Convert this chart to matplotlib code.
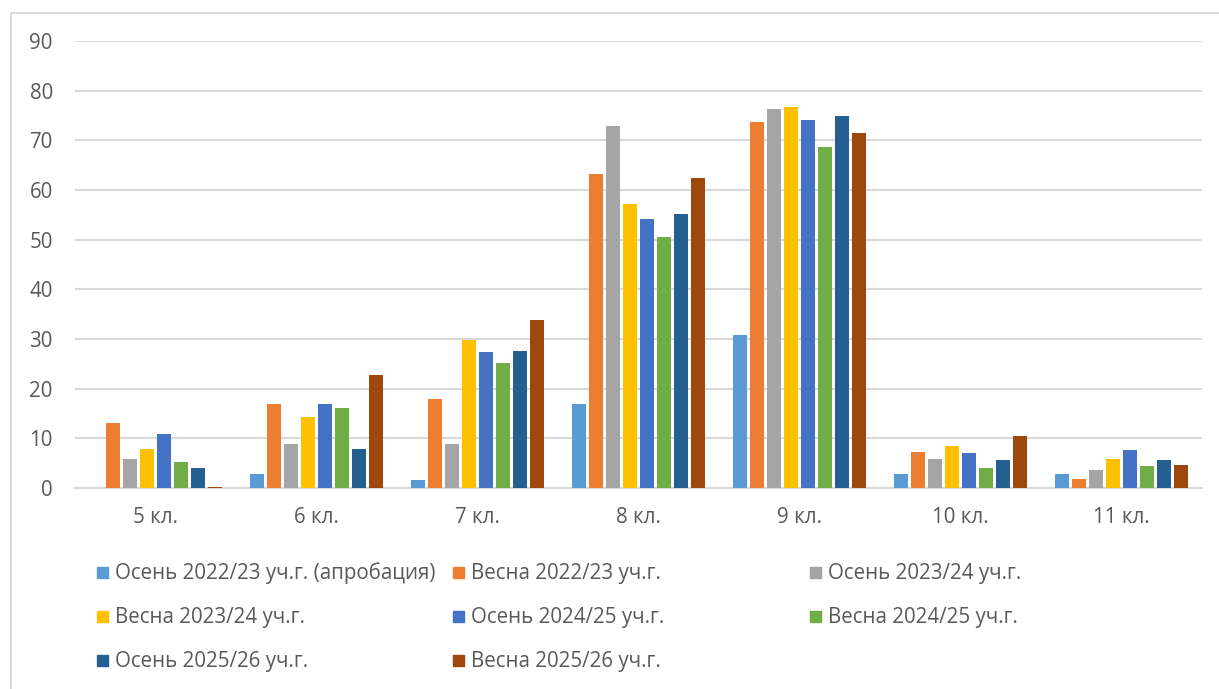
import numpy as np
import matplotlib.pyplot as plt
from matplotlib.patches import Rectangle

# Категории и подписи
grades = ["5 кл.", "6 кл.", "7 кл.", "8 кл.", "9 кл.", "10 кл.", "11 кл."]

series_names = [
    "Осень 2022/23 уч.г. (апробация)",
    "Весна 2022/23 уч.г.",
    "Осень 2023/24 уч.г.",
    "Весна 2023/24 уч.г.",
    "Осень 2024/25 уч.г.",
    "Весна 2024/25 уч.г.",
    "Осень 2025/26 уч.г.",
    "Весна 2025/26 уч.г.",
]

# Значения по сериям (по классам 5..11)
autumn_2223 = [0, 2.9, 1.6, 17.0, 30.9, 2.9, 2.9]
spring_2223 = [13.0, 16.9, 17.9, 63.2, 73.6, 7.3, 1.9]
autumn_2324 = [5.8, 8.8, 8.8, 72.8, 76.4, 5.8, 3.7]
spring_2324 = [7.9, 14.2, 29.8, 57.2, 76.7, 8.4, 5.8]
autumn_2425 = [10.8, 16.9, 27.4, 54.2, 74.0, 7.0, 7.7]
spring_2425 = [5.2, 16.1, 25.2, 50.6, 68.6, 4.1, 4.4]
autumn_2526 = [4.0, 7.9, 27.6, 55.1, 75.0, 5.6, 5.6]
spring_2526 = [0.3, 22.8, 33.8, 62.5, 71.5, 10.5, 4.6]

values = [autumn_2223, spring_2223, autumn_2324, spring_2324,
          autumn_2425, spring_2425, autumn_2526, spring_2526]

colors = ["#5B9BD5", "#ED7D31", "#A5A5A5", "#FFC000",
          "#4472C4", "#70AD47", "#255E91", "#9E480E"]

plt.rcParams['font.family'] = ['Open Sans', 'DejaVu Sans']
text_color = "#595959"
grid_color = "#D9D9D9"
fs = 14.8

fig = plt.figure(figsize=(12.19, 6.89), dpi=100)
ax = fig.add_axes([75 / 1219, 1 - 488 / 689, (1202 - 75) / 1219, (488 - 41) / 689])

x = np.arange(len(grades))
step = 0.1056
width = 0.083
for i, (vals, col) in enumerate(zip(values, colors)):
    ax.bar(x + (i - 3.5) * step, vals, width=width, color=col, zorder=3)

ax.set_xlim(-0.5, len(grades) - 0.5)
ax.set_ylim(0, 90)
ax.set_yticks(range(0, 91, 10))
ax.set_xticks(x)
ax.set_xticklabels(grades)
ax.yaxis.grid(True, color=grid_color, linewidth=1.5, zorder=0)
ax.tick_params(axis='both', length=0, labelsize=fs, colors=text_color)
ax.tick_params(axis='y', pad=16)
ax.tick_params(axis='x', pad=14)
for s in ["top", "right", "left"]:
    ax.spines[s].set_visible(False)
ax.spines["bottom"].set_color(grid_color)
ax.spines["bottom"].set_linewidth(1.5)

# Рамка диаграммы
fig.patches.append(Rectangle((11 / 1219, -0.1), 1.2, 1 - 13 / 689 + 0.1,
                             transform=fig.transFigure, fill=False,
                             edgecolor=grid_color, linewidth=1.5))

# Легенда (3 колонки, построчно)
col_x = [97, 453, 810]
row_y = [573, 617, 661]
for i, (name, col) in enumerate(zip(series_names, colors)):
    r, c = divmod(i, 3)
    px, py = col_x[c], row_y[r]
    fig.patches.append(Rectangle((px / 1219, 1 - (py + 5) / 689), 11 / 1219, 11 / 689,
                                 transform=fig.transFigure, color=col))
    fig.text((px + 18) / 1219, 1 - py / 689, name, fontsize=fs,
             color=text_color, va='center', ha='left')

fig.savefig("out.png", dpi=100)
